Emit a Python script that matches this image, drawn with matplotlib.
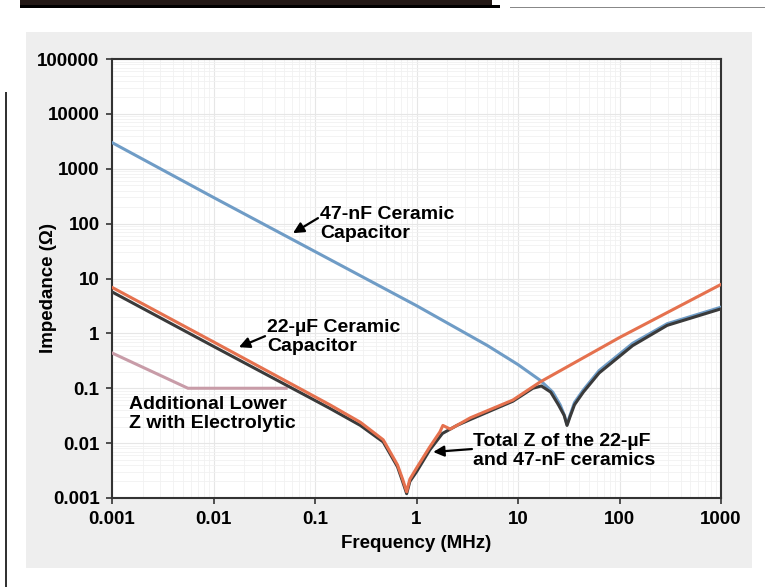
import matplotlib
matplotlib.use("Agg")
import matplotlib.pyplot as plt
from matplotlib.patches import Rectangle
from matplotlib.ticker import FixedLocator, FixedFormatter, LogLocator, NullFormatter

plt.rcParams['font.family'] = ['Liberation Sans', 'DejaVu Sans']
plt.rcParams['font.weight'] = 'bold'

# values (frequency in MHz, impedance in ohm)
freq_47n = [0.001, 0.01, 0.1, 1, 5, 10, 16.5, 22, 26, 28.5, 30.4, 32.5, 36, 44, 63, 135, 295, 1000]
z_47n = [3000, 300, 31, 3.2, 0.6, 0.27, 0.14, 0.085, 0.05, 0.033, 0.022, 0.032, 0.055, 0.093, 0.21, 0.66, 1.5, 3.0]

freq_22u = [0.001, 0.01, 0.1, 0.14, 0.28, 0.47, 0.65, 0.73, 0.8, 0.86, 1.0, 1.35, 1.7, 1.82, 2.15, 3.4, 8.9, 16.5, 100, 1000]
z_22u = [6.9, 0.7, 0.07, 0.05, 0.024, 0.0115, 0.004, 0.0022, 0.0013, 0.0022, 0.0035, 0.0085, 0.016, 0.021, 0.018, 0.029, 0.061, 0.13, 0.84, 7.8]

freq_tot = [0.001, 0.01, 0.1, 0.14, 0.28, 0.47, 0.65, 0.73, 0.8, 0.86, 1.0, 1.35, 1.8, 2.5, 3.4, 8.9, 14, 17,
            21, 25, 28.5, 30.4, 32.5, 36, 44, 63, 135, 295, 1000]
z_tot = [5.7, 0.58, 0.06, 0.043, 0.021, 0.0105, 0.0037, 0.002, 0.0012, 0.002, 0.003, 0.0075, 0.015, 0.021, 0.027,
         0.058, 0.1, 0.11, 0.085, 0.05, 0.032, 0.021, 0.03, 0.05, 0.085, 0.19, 0.6, 1.4, 2.8]

freq_el = [0.001, 0.0056, 0.052]
z_el = [0.44, 0.1, 0.1]

x_ticks = [0.001, 0.01, 0.1, 1, 10, 100, 1000]
x_labels = ['0.001', '0.01', '0.1', '1', '10', '100', '1000']
y_ticks = [0.001, 0.01, 0.1, 1, 10, 100, 1000, 10000, 100000]
y_labels = ['0.001', '0.01', '0.1', '1', '10', '100', '1000', '10000', '100000']

W, H = 765, 587
fig = plt.figure(figsize=(W / 100, H / 100), dpi=100)


def px_rect(x0, y0, x1, y1, **kw):
    # rectangle given in picture pixels (y from top)
    fig.patches.append(Rectangle((x0 / W, 1 - y1 / H), (x1 - x0) / W, (y1 - y0) / H,
                                 transform=fig.transFigure, zorder=-5, **kw))


# page decoration
px_rect(26, 32, 752, 568, facecolor='#eeeeee', edgecolor='none')
px_rect(20, 0, 492, 6, facecolor='#231916', edgecolor='none')
px_rect(20, 5, 500, 8, facecolor='#000000', edgecolor='none')
px_rect(510, 6.5, 765, 8, facecolor='#888888', edgecolor='none')
px_rect(5, 92, 7, 587, facecolor='#333333', edgecolor='none')

ax = fig.add_axes([112 / W, 1 - 498 / H, (721 - 112) / W, (498 - 59) / H])
ax.set_zorder(1)
ax.set_facecolor('white')

ax.loglog(freq_el, z_el, color='#c89ca8', lw=2.2, zorder=3)
ax.loglog(freq_47n, z_47n, color='#6f9cc6', lw=2.2, zorder=3)
ax.loglog(freq_tot, z_tot, color='#3a3a3a', lw=2.2, zorder=4)
ax.loglog(freq_22u, z_22u, color='#e5714e', lw=2.2, zorder=5)

ax.set_xlim(0.001, 1000)
ax.set_ylim(0.001, 100000)

ax.xaxis.set_major_locator(FixedLocator(x_ticks))
ax.xaxis.set_major_formatter(FixedFormatter(x_labels))
ax.yaxis.set_major_locator(FixedLocator(y_ticks))
ax.yaxis.set_major_formatter(FixedFormatter(y_labels))
ax.xaxis.set_minor_locator(LogLocator(base=10, subs=range(2, 10), numticks=20))
ax.yaxis.set_minor_locator(LogLocator(base=10, subs=range(2, 10), numticks=20))
ax.xaxis.set_minor_formatter(NullFormatter())
ax.yaxis.set_minor_formatter(NullFormatter())

ax.tick_params(which='major', direction='out', length=4, width=1.2, color='#333333',
               labelsize=13.5, pad=5)
ax.tick_params(which='minor', length=0)
for lab in ax.get_xticklabels() + ax.get_yticklabels():
    lab.set_fontweight('bold')

ax.grid(which='major', color='#e6e6e6', lw=0.8)
ax.grid(which='minor', color='#f1f1f1', lw=0.6)
ax.set_axisbelow(True)

for s in ax.spines.values():
    s.set_color('#333333')
    s.set_linewidth(1.5)

ax.set_xlabel('Frequency (MHz)', fontsize=13.5, fontweight='bold')
ax.set_ylabel('Impedance (Ω)', fontsize=13.5, fontweight='bold')
ax.xaxis.set_label_coords(0.5, -0.1035)
ax.xaxis.label.set_va('center')
ax.yaxis.set_label_coords(-0.105, 0.478)
ax.yaxis.label.set_va('center')

arrow = dict(arrowstyle='-|>', color='black', lw=1.6, mutation_scale=16, shrinkA=0, shrinkB=0)
txt = dict(fontsize=14, fontweight='bold', ha='left', va='center', linespacing=1.2)

ax.text(0.112, 98, '47-nF Ceramic\nCapacitor', **txt)
ax.annotate('', xy=(0.0607, 67), xytext=(0.107, 126), arrowprops=arrow)

ax.text(0.0337, 0.857, '22-µF Ceramic\nCapacitor', **txt)
ax.annotate('', xy=(0.0178, 0.56), xytext=(0.0322, 0.89), arrowprops=arrow)

ax.text(0.00147, 0.034, 'Additional Lower\nZ with Electrolytic', **txt)

ax.text(3.6, 0.0072, 'Total Z of the 22-µF\nand 47-nF ceramics', **txt)
ax.annotate('', xy=(1.46, 0.0069), xytext=(3.52, 0.0078), arrowprops=arrow)

fig.savefig('out.png', dpi=100)
